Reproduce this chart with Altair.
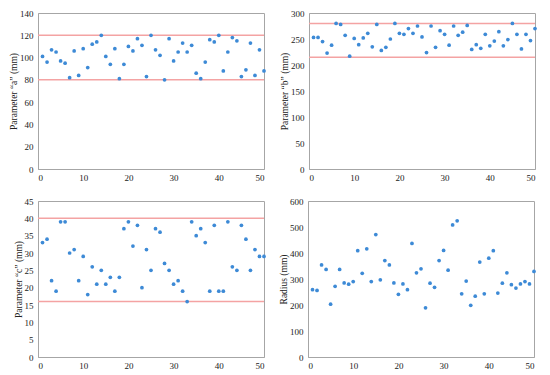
import altair as alt
import pandas as pd

idx = list(range(1, 51))

param_a = [101, 96, 107, 105, 97, 95, 82, 106, 84, 108,
           91, 112, 114, 120, 101, 94, 108, 81, 94, 110,
           106, 117, 111, 83, 120, 107, 102, 80, 117, 97,
           105, 113, 105, 111, 86, 81, 96, 116, 114, 120,
           88, 105, 118, 115, 83, 89, 113, 84, 107, 88]

param_b = [253, 253, 245, 223, 238, 280, 278, 257, 217, 251,
           239, 252, 261, 235, 278, 228, 234, 250, 280, 261,
           259, 270, 261, 275, 254, 224, 275, 234, 266, 259,
           238, 275, 257, 263, 276, 230, 239, 232, 259, 237,
           246, 264, 237, 249, 280, 259, 231, 259, 247, 270]

param_c = [33, 34, 22, 19, 39, 39, 30, 31, 22, 29,
           18, 26, 21, 25, 21, 23, 19, 23, 37, 39,
           32, 38, 20, 31, 25, 37, 36, 27, 25, 21,
           22, 19, 16, 39, 35, 37, 33, 19, 38, 19,
           19, 39, 26, 25, 38, 34, 25, 31, 29, 29]

radius = [259, 256, 354, 337, 203, 272, 337, 285, 280, 290,
          409, 322, 416, 290, 471, 297, 371, 354, 285, 241,
          281, 259, 437, 324, 339, 189, 284, 268, 371, 410,
          334, 508, 524, 243, 292, 199, 234, 365, 243, 380,
          409, 246, 284, 324, 278, 265, 281, 290, 281, 329]

titles = ['Parameter \u201ca\u201d (mm)', 'Parameter \u201cb\u201d (mm)',
          'Parameter \u201cc\u201d (mm)', 'Radius (mm)']
y_max = [140, 300, 45, 600]
y_step = [20, 50, 5, 100]
limits = [[80, 120], [215, 280], [16, 40], []]
series = [param_a, param_b, param_c, radius]

FONT = "Liberation Serif"
W, H = 226, 156


def panel(vals, title, ymax, ystep, lims):
    df = pd.DataFrame({"n": idx, "v": vals})
    yenc = alt.Y("v:Q", scale=alt.Scale(domain=[0, ymax], nice=False),
                 axis=alt.Axis(values=list(range(0, ymax + 1, ystep)), title=title,
                               labelFont=FONT, labelFontSize=9, labelPadding=5,
                               titleFont=FONT, titleFontSize=9.5, titlePadding=1))
    pts = alt.Chart(df).mark_point(filled=True, size=14, color="#3d8ad6", opacity=1).encode(
        x=alt.X("n:Q", scale=alt.Scale(domain=[0, 50], nice=False),
                axis=alt.Axis(values=[0, 10, 20, 30, 40, 50], title=None,
                              labelFont=FONT, labelFontSize=9, labelPadding=4)),
        y=yenc,
    )
    layers = [pts]
    if lims:
        ldf = pd.DataFrame({"v": lims})
        rules = alt.Chart(ldf).mark_rule(color="#f4a3a3", strokeWidth=1.5).encode(y=yenc)
        layers = [rules, pts]
    return alt.layer(*layers).properties(width=W, height=H)


charts = [panel(series[i], titles[i], y_max[i], y_step[i], limits[i]) for i in range(4)]

chart = alt.vconcat(
    alt.hconcat(charts[0], charts[1], spacing=12),
    alt.hconcat(charts[2], charts[3], spacing=11),
    spacing=13,
).configure(
    background="white", padding=0
).configure_view(
    stroke="#a6a6a6", strokeWidth=1
).configure_axis(
    grid=False, ticks=False, domain=True, domainColor="#a6a6a6",
    labelColor="#222222", titleColor="#222222", titleFontWeight="normal",
    labelOverlap=False,
)

chart.save("out.html", embed_options={"renderer": "svg", "actions": False})
